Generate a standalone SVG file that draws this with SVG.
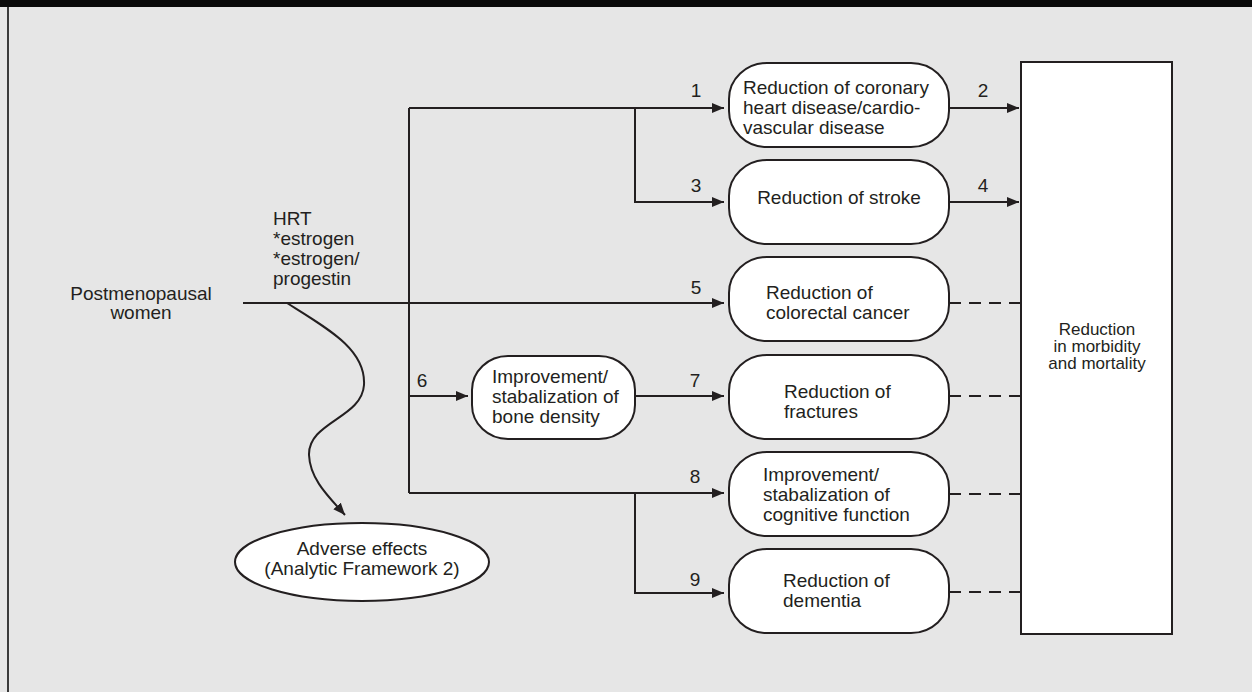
<svg xmlns="http://www.w3.org/2000/svg" width="1252" height="692" viewBox="0 0 1252 692">
<defs>
<marker id="ah" markerUnits="userSpaceOnUse" markerWidth="13" markerHeight="11" refX="12" refY="5" orient="auto"><path d="M0,0 L12,5 L0,10 z" fill="#231f20"/></marker>
<style>
text{font-family:"Liberation Sans",Arial,sans-serif;font-size:19px;fill:#231f20}
.m{text-anchor:middle}
.box{fill:#fff;stroke:#231f20;stroke-width:2}
.ln{fill:none;stroke:#231f20;stroke-width:2}
.ar{fill:none;stroke:#231f20;stroke-width:2;marker-end:url(#ah)}
.ds{fill:none;stroke:#231f20;stroke-width:2;stroke-dasharray:12 8}
.big{font-size:17px}
</style>
</defs>
<rect x="0" y="0" width="1252" height="692" fill="#e6e6e6"/>
<rect x="0" y="0" width="1252" height="7" fill="#0a0a0a"/>
<line x1="8" y1="7" x2="8" y2="692" stroke="#3a3a3a" stroke-width="2"/>

<g id="connectors">
<path class="ar" d="M243,303 H724"/>
<path class="ln" d="M409,108 V493"/>
<path class="ar" d="M409,108 H724"/>
<path class="ar" d="M635,108 V202 H724"/>
<path class="ar" d="M949,108 H1019"/>
<path class="ar" d="M949,202 H1019"/>
<path class="ar" d="M409,396 H468"/>
<path class="ar" d="M635,396 H724"/>
<path class="ar" d="M409,493 H724"/>
<path class="ar" d="M635,493 V593 H724"/>
<path class="ds" d="M949,303 H1021"/>
<path class="ds" d="M949,396 H1021"/>
<path class="ds" d="M949,494 H1021"/>
<path class="ds" d="M949,592 H1021"/>
<path class="ar" d="M287,303 C330,330 366,350 364,385 C362,418 308,422 309,455 C310,480 330,498 345,515"/>
<text class="m" x="696" y="97">1</text>
<text class="m" x="983" y="97">2</text>
<text class="m" x="696" y="192">3</text>
<text class="m" x="983" y="192">4</text>
<text class="m" x="696" y="294">5</text>
<text class="m" x="422" y="387">6</text>
<text class="m" x="695" y="387">7</text>
<text class="m" x="695" y="483">8</text>
<text class="m" x="695" y="586">9</text>
</g>

<g id="population">
<text class="m" x="141" y="300">Postmenopausal</text>
<text class="m" x="141" y="319">women</text>
</g>

<g id="intervention">
<text x="273" y="225">HRT</text>
<text x="273" y="245">*estrogen</text>
<text x="273" y="265">*estrogen/</text>
<text x="273" y="285">progestin</text>
</g>

<g id="chd">
<rect class="box" x="729" y="63" width="220" height="84" rx="38" ry="36"/>
<text x="743" y="94">Reduction of coronary</text>
<text x="743" y="114">heart disease/cardio-</text>
<text x="743" y="134">vascular disease</text>
</g>

<g id="stroke">
<rect class="box" x="729" y="160" width="220" height="84" rx="38" ry="36"/>
<text class="m" x="839" y="204">Reduction of stroke</text>
</g>

<g id="colorectal">
<rect class="box" x="729" y="257" width="220" height="84" rx="38" ry="36"/>
<text x="766" y="299">Reduction of</text>
<text x="766" y="319">colorectal cancer</text>
</g>

<g id="bone">
<rect class="box" x="472" y="356" width="163" height="83" rx="36" ry="34"/>
<text x="492" y="383">Improvement/</text>
<text x="492" y="403">stabalization of</text>
<text x="492" y="423">bone density</text>
</g>

<g id="fractures">
<rect class="box" x="729" y="355" width="220" height="84" rx="38" ry="36"/>
<text x="784" y="398">Reduction of</text>
<text x="784" y="418">fractures</text>
</g>

<g id="cognitive">
<rect class="box" x="729" y="452" width="220" height="84" rx="38" ry="36"/>
<text x="763" y="481">Improvement/</text>
<text x="763" y="501">stabalization of</text>
<text x="763" y="521">cognitive function</text>
</g>

<g id="dementia">
<rect class="box" x="729" y="549" width="220" height="84" rx="38" ry="36"/>
<text x="783" y="587">Reduction of</text>
<text x="783" y="607">dementia</text>
</g>

<g id="adverse">
<ellipse class="box" cx="362" cy="562" rx="127" ry="39"/>
<text class="m" x="362" y="555">Adverse effects</text>
<text class="m" x="362" y="575">(Analytic Framework 2)</text>
</g>

<g id="outcome">
<rect class="box" x="1021" y="62" width="151" height="572"/>
<text class="m big" x="1097" y="335">Reduction</text>
<text class="m big" x="1097" y="352">in morbidity</text>
<text class="m big" x="1097" y="369">and mortality</text>
</g>
</svg>
